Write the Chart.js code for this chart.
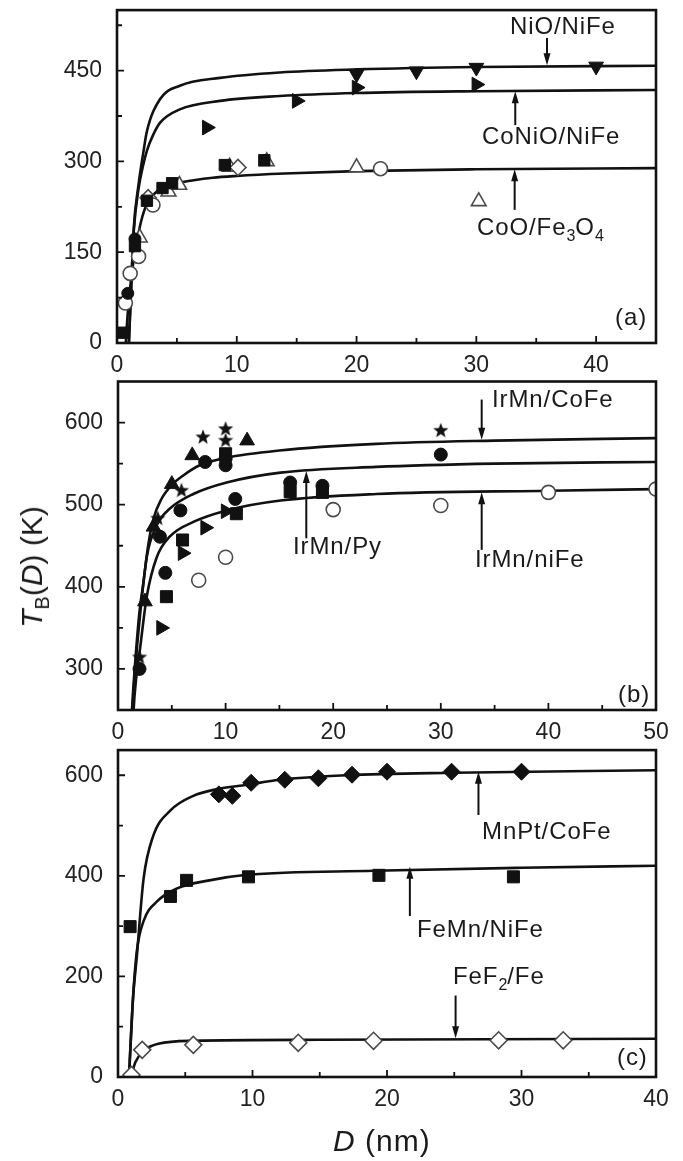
<!DOCTYPE html>
<html>
<head>
<meta charset="utf-8">
<script src="https://cdn.jsdelivr.net/npm/chart.js@4.4.1/dist/chart.umd.min.js"></script>
<style>
  body { margin: 0; background: #fff; }
  #wrap { position: relative; width: 683px; height: 1161px; overflow: hidden;
          font-family: 'Liberation Sans', Arial, sans-serif; color: #1a1a1a; }
  canvas { position: absolute; left: 0; }
  .lbl { position: absolute; font-size: 24px; line-height: 1; white-space: nowrap; letter-spacing: 0.9px; }
  .lbl sub { font-size: 16px; vertical-align: -6px; line-height: 0; letter-spacing: 0; }
  #ytitle { position: absolute; left: 32px; top: 567px; font-size: 30px; line-height: 1; white-space: nowrap;
            transform: translate(-50%, -50%) rotate(-90deg); }
  #ytitle sub { font-size: 20px; vertical-align: -7px; line-height: 0; }
  #xtitle { position: absolute; left: 333px; top: 1126px; font-size: 30px; line-height: 1; white-space: nowrap; letter-spacing: 1px; }
</style>
</head>
<body>
<div id="wrap">
  <canvas id="chartA" width="683" height="372" style="top:0px"></canvas>
  <canvas id="chartB" width="683" height="368" style="top:372px"></canvas>
  <canvas id="chartC" width="683" height="421" style="top:740px"></canvas>

  <div class="lbl" style="left:510px; top:14px">NiO/NiFe</div>
  <div class="lbl" style="left:482px; top:124px">CoNiO/NiFe</div>
  <div class="lbl" style="left:477px; top:215px">CoO/Fe<sub>3</sub>O<sub>4</sub></div>
  <div class="lbl" style="left:615px; top:305px">(a)</div>

  <div class="lbl" style="left:492px; top:387px">IrMn/CoFe</div>
  <div class="lbl" style="left:293px; top:534px">IrMn/Py</div>
  <div class="lbl" style="left:475px; top:547px">IrMn/niFe</div>
  <div class="lbl" style="left:618px; top:682px">(b)</div>

  <div class="lbl" style="left:482px; top:819px">MnPt/CoFe</div>
  <div class="lbl" style="left:417px; top:917px">FeMn/NiFe</div>
  <div class="lbl" style="left:453px; top:964px">FeF<sub>2</sub>/Fe</div>
  <div class="lbl" style="left:617px; top:1045px">(c)</div>

  <div id="ytitle"><i>T</i><sub>B</sub>(<i>D</i>) (K)</div>
  <div id="xtitle"><i>D</i> (nm)</div>
</div>

<script>
// ---- panel (a) : oxide AFMs ----
const xTicksA = [0, 10, 20, 30, 40];
const xMinorA = [5, 15, 25, 35];
const yTicksA = [0, 150, 300, 450];
const yMinorA = [75, 225, 375, 525];

// fitted curves, D (nm) vs T_B (K)
const fitNiO = [[0.95, -20], [1.2, 100], [1.4, 190], [1.8, 262], [2.2, 315], [2.5, 350], [3.6, 403], [5.25, 425], [8.6, 438], [13.6, 447], [20, 452], [30, 456], [45, 458]];
const fitCoNiO = [[0.95, -20], [1.2, 100], [1.4, 185], [1.8, 255], [2.2, 295], [2.5, 318], [3.0, 343], [3.6, 364], [5.25, 386], [8.6, 400], [13.6, 408], [20, 413], [30, 416], [45, 418]];
const fitCoO = [[0.7, -10], [0.9, 50], [1.2, 110], [1.6, 160], [2.0, 200], [2.5, 230], [3.3, 250], [4.0, 258], [5.5, 266], [8, 273], [10, 276], [14, 280], [20, 284], [30, 287], [45, 289]];

const ptsNiO = [[20, 444], [25, 449], [30, 455], [40, 457]];
const ptsCoNiO = [[7.5, 356], [15, 400], [20, 422], [30, 427]];
const ptsCoOTri = [[1.9, 174], [4.3, 250], [5.2, 261], [9.4, 291], [12.5, 300], [20, 290], [30.2, 234]];
const ptsCoOCircle = [[0.7, 66], [1.1, 115], [1.8, 143], [3.0, 228], [22, 288]];
const ptsCoODiamond = [[2.6, 240], [10.1, 290]];
const ptsOxideSquare = [[0.5, 17], [1.5, 160], [2.5, 235], [3.8, 256], [4.6, 264], [9, 294], [12.3, 302]];
const ptsOxideDot = [[0.9, 82], [1.5, 172]];

// ---- panel (b) : IrMn based ----
const xTicksB = [0, 10, 20, 30, 40, 50];
const xMinorB = [5, 15, 25, 35, 45];
const yTicksB = [300, 400, 500, 600];
const yMinorB = [350, 450, 550];

const fitIrMnCoFe = [[1.15, 200], [1.3, 250], [1.58, 305], [2.0, 370], [2.35, 404], [2.8, 450], [3.3, 483], [4.0, 506], [5.0, 524], [6.0, 535], [7.6, 548], [10, 557], [15, 566], [24, 574], [35, 578], [50, 581]];
const fitIrMnPy = [[1.2, 200], [1.35, 250], [1.6, 300], [2.04, 364], [2.67, 436], [3.6, 475], [4.8, 495], [7, 513], [10.1, 527], [15.1, 539], [24, 546], [35, 550], [50, 552]];
const fitIrMnNiFe = [[1.3, 200], [1.45, 250], [1.7, 290], [2.04, 324], [2.67, 388], [3.6, 436], [4.8, 461], [7, 479], [10.1, 493], [15.1, 505], [24, 513], [40, 517], [50, 519]];

const ptsStar = [[2, 314], [3.7, 483], [5.9, 517], [7.9, 582], [10, 592], [10, 578], [30, 590]];
const ptsUpTri = [[2.5, 382], [3.3, 473], [5, 525], [6.9, 560], [12, 578]];
const ptsDot = [[2, 300], [3.9, 461], [4.4, 417], [5.8, 493], [8.1, 552], [10, 556], [10, 548], [10.9, 507], [16, 527], [19, 523], [30, 561]];
const ptsSquareB = [[4.5, 388], [6, 457], [10, 562], [11, 489], [16, 516], [19, 515]];
const ptsRightTri = [[4, 350], [6, 441], [8.1, 472], [10, 492]];
const ptsOpenCircleB = [[7.5, 408], [10, 436], [20, 494], [30, 499], [40, 515], [50, 519]];

// ---- panel (c) ----
const xTicksC = [0, 10, 20, 30, 40];
const xMinorC = [5, 15, 25, 35];
const yTicksC = [0, 200, 400, 600];
const yMinorC = [100, 300, 500];

const fitMnPt = [[0.8, -10], [1.1, 150], [1.4, 240], [1.9, 394], [2.6, 478], [3.9, 530], [5.6, 559], [7.3, 572], [9.6, 581], [12, 591], [17, 600], [25, 605], [40, 610]];
const fitFeMn = [[0.8, -10], [1.1, 150], [1.4, 250], [1.9, 310], [2.9, 349], [4.4, 375], [6.8, 391], [9.6, 402], [19, 410], [30, 416], [40, 420]];
const fitFeF2 = [[0.95, 0], [1.3, 30], [1.9, 52], [3, 66], [5.6, 72], [15, 74], [40, 76]];

const ptsMnPt = [[7.5, 562], [8.5, 559], [9.9, 585], [12.4, 591], [14.9, 594], [17.4, 601], [20, 607], [24.8, 607], [30, 607]];
const ptsFeMn = [[0.9, 299], [3.9, 359], [5.1, 391], [9.7, 398], [19.4, 401], [29.4, 398]];
const ptsFeF2 = [[1, 4], [1.8, 54], [5.6, 64], [13.4, 68], [19, 72], [28.3, 73], [33.1, 73]];

const INK = '#111';
const OPEN = '#4a4a4a';

Chart.defaults.font.family = "'Liberation Sans', Arial, sans-serif";
Chart.defaults.font.size = 23;
Chart.defaults.color = '#222';

const pts = list => list.map(([x, y]) => ({ x, y }));

function starImage(r) {
    const c = document.createElement('canvas');
    c.width = c.height = 2 * r + 2;
    const g = c.getContext('2d');
    g.beginPath();
    for (let i = 0; i < 10; i++) {
        const rr = i % 2 ? r * 0.42 : r;
        const a = -Math.PI / 2 + i * Math.PI / 5;
        g.lineTo(r + 1 + rr * Math.cos(a), r + 1 + rr * Math.sin(a));
    }
    g.closePath();
    g.fillStyle = INK;
    g.fill();
    return c;
}

function curve(list) {
    return {
        data: pts(list), showLine: true, pointRadius: 0, borderColor: INK,
        borderWidth: 2.6, cubicInterpolationMode: 'monotone', order: 2
    };
}

function filled(list, style, radius, rotation) {
    return {
        data: pts(list), showLine: false, pointStyle: style, pointRadius: radius,
        rotation: rotation || 0, pointBackgroundColor: INK, pointBorderColor: INK,
        pointBorderWidth: 1, order: 1
    };
}

function open(list, style, radius) {
    return {
        data: pts(list), showLine: false, pointStyle: style, pointRadius: radius,
        pointBackgroundColor: '#fff', pointBorderColor: OPEN, pointBorderWidth: 1.6, order: 1
    };
}

// box around the plot area plus inward major/minor ticks
const framePlugin = {
    id: 'frame',
    afterDatasetsDraw(chart, args, opts) {
        const { ctx, chartArea: a, scales: { x, y } } = chart;
        ctx.save();
        ctx.strokeStyle = INK;
        ctx.lineWidth = 1.8;
        ctx.beginPath();
        const xt = (vals, len) => vals.forEach(v => {
            const p = x.getPixelForValue(v);
            ctx.moveTo(p, a.bottom); ctx.lineTo(p, a.bottom - len);
        });
        const yt = (vals, len) => vals.forEach(v => {
            const p = y.getPixelForValue(v);
            ctx.moveTo(a.left, p); ctx.lineTo(a.left + len, p);
        });
        xt(opts.xMajor, 7); xt(opts.xMinor, 5);
        yt(opts.yMajor, 7); yt(opts.yMinor, 5);
        ctx.stroke();
        ctx.lineWidth = 2.6;
        ctx.strokeRect(a.left, a.top, a.right - a.left, a.bottom - a.top);
        ctx.restore();
    }
};

// label pointers, given in data units [x0, y0, x1(tip), y1(tip)]
const arrowPlugin = {
    id: 'arrows',
    afterDatasetsDraw(chart, args, opts) {
        const { ctx, scales: { x, y } } = chart;
        ctx.save();
        ctx.strokeStyle = INK;
        ctx.fillStyle = INK;
        ctx.lineWidth = 2;
        opts.list.forEach(([x0, y0, x1, y1]) => {
            const px0 = x.getPixelForValue(x0), py0 = y.getPixelForValue(y0);
            const px1 = x.getPixelForValue(x1), py1 = y.getPixelForValue(y1);
            const dir = Math.sign(py1 - py0);
            ctx.beginPath();
            ctx.moveTo(px0, py0);
            ctx.lineTo(px1, py1 - dir * 8);
            ctx.stroke();
            ctx.beginPath();
            ctx.moveTo(px1, py1);
            ctx.lineTo(px1 - 3.5, py1 - dir * 12);
            ctx.lineTo(px1 + 3.5, py1 - dir * 12);
            ctx.closePath();
            ctx.fill();
        });
        ctx.restore();
    }
};

// keep the plot box where the layout padding puts it, whatever the tick labels need
function noOverflow(sc) {
    sc.paddingLeft = 0; sc.paddingRight = 0;
    sc.paddingTop = 0; sc.paddingBottom = 0;
}

function makePanel(id, datasets, s) {
    new Chart(document.getElementById(id), {
        type: 'scatter',
        data: { datasets: datasets },
        options: {
            responsive: false,
            animation: false,
            devicePixelRatio: 1,
            layout: { padding: { left: 0, right: 27, top: s.padTop, bottom: 0 } },
            plugins: {
                legend: { display: false },
                tooltip: { enabled: false },
                frame: { xMajor: s.xTicks, xMinor: s.xMinor, yMajor: s.yTicks, yMinor: s.yMinor },
                arrows: { list: s.arrows }
            },
            scales: {
                x: {
                    type: 'linear', min: s.xMin, max: s.xMax,
                    grid: { display: false }, border: { display: false },
                    afterBuildTicks: sc => { sc.ticks = s.xTicks.map(v => ({ value: v })); },
                    afterFit: sc => { sc.height = s.xHeight; noOverflow(sc); },
                    ticks: { padding: 1, autoSkip: false, maxRotation: 0, callback: v => String(v) }
                },
                y: {
                    type: 'linear', min: s.yMin, max: s.yMax,
                    grid: { display: false }, border: { display: false },
                    afterBuildTicks: sc => { sc.ticks = s.yTicks.map(v => ({ value: v })); },
                    afterFit: sc => { sc.width = s.yWidth; noOverflow(sc); },
                    ticks: { padding: 7, autoSkip: false, callback: v => String(v) }
                }
            }
        },
        plugins: [framePlugin, arrowPlugin]
    });
}

const star = starImage(8);

makePanel('chartA', [
    curve(fitNiO), curve(fitCoNiO), curve(fitCoO),
    filled(ptsOxideSquare, 'rect', 8),
    filled(ptsOxideDot, 'circle', 6),
    open(ptsCoOCircle, 'circle', 7),
    open(ptsCoODiamond, 'rectRot', 8),
    open(ptsCoOTri, 'triangle', 8.5),
    filled(ptsCoNiO, 'triangle', 8.5, 90),
    filled(ptsNiO, 'triangle', 8.5, 180)
], {
    xMin: 0, xMax: 45, yMin: 0, yMax: 550, padTop: 6, xHeight: 29, yWidth: 117,
    xTicks: xTicksA, xMinor: xMinorA, yTicks: yTicksA, yMinor: yMinorA,
    arrows: [[35.9, 504, 35.9, 459], [33.25, 360, 33.25, 416], [33.2, 220, 33.2, 287]]
});

makePanel('chartB', [
    curve(fitIrMnCoFe), curve(fitIrMnPy), curve(fitIrMnNiFe),
    open(ptsOpenCircleB, 'circle', 7),
    filled(ptsSquareB, 'rect', 8.5),
    filled(ptsDot, 'circle', 6.5),
    filled(ptsRightTri, 'triangle', 8.5, 90),
    filled(ptsUpTri, 'triangle', 8.5),
    filled(ptsStar, star, 8)
], {
    xMin: 0, xMax: 50, yMin: 250, yMax: 650, padTop: 1, xHeight: 30, yWidth: 118,
    xTicks: xTicksB, xMinor: xMinorB, yTicks: yTicksB, yMinor: yMinorB,
    arrows: [[33.8, 628, 33.8, 579], [17.5, 459, 17.5, 541], [33.8, 445, 33.8, 515]]
});

makePanel('chartC', [
    curve(fitMnPt), curve(fitFeMn), curve(fitFeF2),
    filled(ptsMnPt, 'rectRot', 8.5),
    filled(ptsFeMn, 'rect', 8.5),
    open(ptsFeF2, 'rectRot', 8.5)
], {
    xMin: 0, xMax: 40, yMin: 0, yMax: 650, padTop: 1, xHeight: 84, yWidth: 118,
    xTicks: xTicksC, xMinor: xMinorC, yTicks: yTicksC, yMinor: yMinorC,
    arrows: [[26.8, 521, 26.8, 607], [21.7, 320, 21.7, 418], [25.1, 162, 25.1, 77]]
});
</script>
</body>
</html>
